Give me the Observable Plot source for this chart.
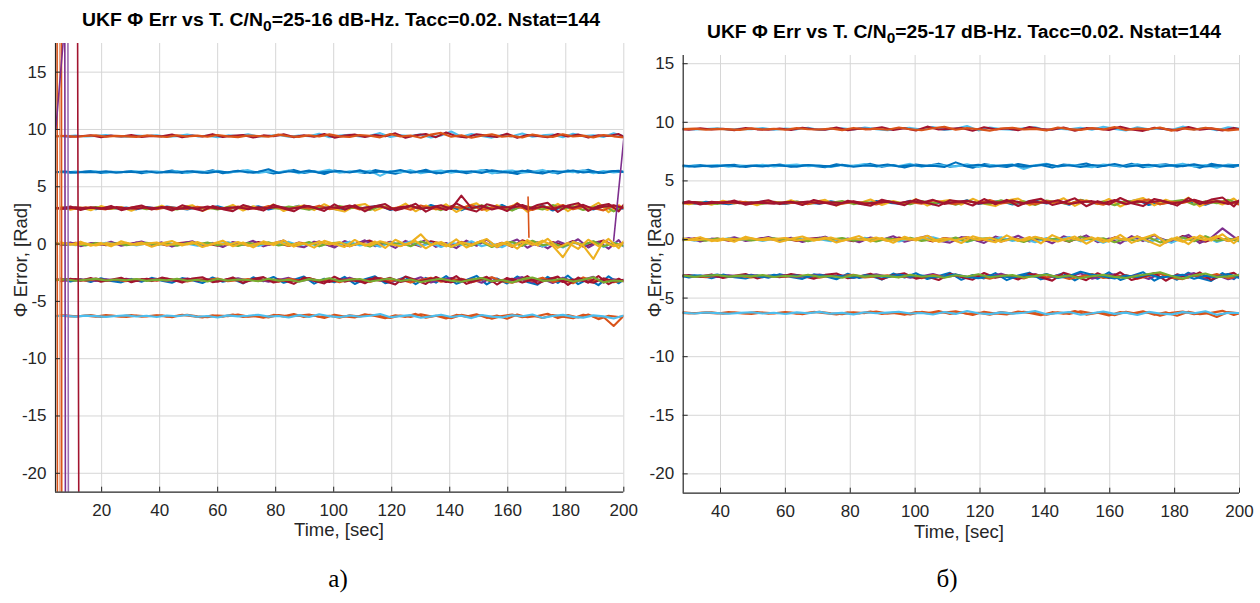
<!DOCTYPE html>
<html><head><meta charset="utf-8">
<script src="https://cdn.jsdelivr.net/npm/d3@7"></script>
<script src="https://cdn.jsdelivr.net/npm/@observablehq/plot@0.6"></script>
<style>
body{margin:0;background:#fff;width:1260px;height:603px;overflow:hidden;position:relative;font-family:"Liberation Sans",Arial,sans-serif;}
.panel{position:absolute;top:0;}
.txt{position:absolute;white-space:nowrap;line-height:1;}
.title{font-weight:bold;font-size:17.5px;color:#000;}
.title sub{font-size:0.8em;vertical-align:-0.35em;line-height:0;}
.lab{font-size:18.5px;color:#262626;}
.cap{font-family:"Liberation Serif","Times New Roman",serif;font-size:25px;color:#000;}
</style></head><body>
<div id="a" class="panel" style="left:0"></div>
<div id="b" class="panel" style="left:630px"></div>
<script>
// ---------- time samples (sec) ----------
const timeA = [4,7.5,11,14.5,18,21.5,25,28.5,32,35.5,39,42.5,46,49.5,53,56.5,60,63.5,67,70.5,74,77.5,81,84.5,88,91.5,95,98.5,102,105.5,109,112.5,116,119.5,123,126.5,130,133.5,137,140.5,144,147.5,151,154.5,158,161.5,165,168.5,172,175.5,179,182.5,186,189.5,193,196.5,200];
const timeA2 = [5.75,9.25,12.75,16.25,19.75,23.25,26.75,30.25,33.75,37.25,40.75,44.25,47.75,51.25,54.75,58.25,61.75,65.25,68.75,72.25,75.75,79.25,82.75,86.25,89.75,93.25,96.75,100.25,103.75,107.25,110.75,114.25,117.75,121.25,124.75,128.25,131.75,135.25,138.75,142.25,145.75,149.25,152.75,156.25,159.75,163.25,166.75,170.25,173.75,177.25,180.75,184.25,187.75,191.25,194.75,198.25,200];
const timeB = [25,28.5,32,35.5,39,42.5,46,49.5,53,56.5,60,63.5,67,70.5,74,77.5,81,84.5,88,91.5,95,98.5,102,105.5,109,112.5,116,119.5,123,126.5,130,133.5,137,140.5,144,147.5,151,154.5,158,161.5,165,168.5,172,175.5,179,182.5,186,189.5,193,196.5,200];
const timeB2 = [26.75,30.25,33.75,37.25,40.75,44.25,47.75,51.25,54.75,58.25,61.75,65.25,68.75,72.25,75.75,79.25,82.75,86.25,89.75,93.25,96.75,100.25,103.75,107.25,110.75,114.25,117.75,121.25,124.75,128.25,131.75,135.25,138.75,142.25,145.75,149.25,152.75,156.25,159.75,163.25,166.75,170.25,173.75,177.25,180.75,184.25,187.75,191.25,194.75,198.25,200];

// ---------- tick labels ----------
const xTicksA = [20,40,60,80,100,120,140,160,180,200];
const xTicksB = [40,60,80,100,120,140,160,180,200];
const yTicks = [-20,-15,-10,-5,0,5,10,15];

// ---------- panel a) C/N0 = 25-16 dB-Hz ----------
const a94_1 = [9.42,9.40,9.47,9.38,9.44,9.52,9.41,9.36,9.46,9.43, 9.49,9.37,9.42,9.55,9.40,9.45,9.33,9.48,9.42,9.58, 9.39,9.44,9.51,9.36,9.47,9.41,9.63,9.32,9.46,9.53, 9.38,9.44,9.68,9.35,9.49,9.42,9.57,9.30,9.47,9.82, 9.36,9.60,9.43,9.29,9.51,9.40,9.64,9.36,9.48,9.55, 9.33,9.62,9.42,9.49,9.35,9.66,9.40];
const a94_2 = [9.38,9.45,9.36,9.43,9.49,9.37,9.44,9.40,9.35,9.48, 9.41,9.34,9.50,9.39,9.46,9.37,9.52,9.40,9.33,9.47, 9.43,9.36,9.55,9.41,9.35,9.49,9.38,9.57,9.40,9.34, 9.52,9.45,9.31,9.60,9.38,9.47,9.28,9.55,9.70,9.36, 9.49,9.27,9.45,9.58,9.37,9.44,9.30,9.56,9.41,9.35, 9.59,9.38,9.46,9.31,9.52,9.40,9.30];
const ax94 = [9.45,9.36,9.41,9.50,9.33,9.46,9.39,9.52,9.35,9.44, 9.40,9.56,9.32,9.47,9.38,9.59,9.34,9.45,9.51,9.30, 9.48,9.41,9.57,9.33,9.50,9.37,9.61,9.29,9.46,9.55, 9.35,9.52,9.40,9.66,9.28,9.49,9.60,9.33,9.74,9.41, 9.30,9.58,9.46,9.34,9.63,9.27,9.52,9.44,9.32,9.61, 9.38,9.55,9.29,9.50,9.43,9.60,9.35];
const a63_1 = [6.30,6.25,6.33,6.27,6.35,6.22,6.31,6.28,6.36,6.24, 6.32,6.26,6.38,6.21,6.34,6.29,6.40,6.23,6.35,6.45, 6.20,6.33,6.27,6.42,6.18,6.36,6.30,6.48,6.22,6.34, 6.26,6.40,5.95,6.37,6.24,6.45,6.19,6.33,6.41,6.23, 6.38,6.27,6.46,6.17,6.35,6.42,6.22,6.31,6.47,6.20, 6.36,6.28,6.44,6.19,6.38,6.25,6.33];
const a63_2 = [6.27,6.33,6.24,6.30,6.26,6.34,6.23,6.31,6.27,6.35, 6.22,6.30,6.25,6.36,6.28,6.21,6.33,6.26,6.39,6.24, 6.31,6.52,6.20,6.35,6.27,6.41,6.23,6.30,6.37,6.25, 6.43,6.21,6.34,6.28,6.46,6.22,6.36,6.29,6.18,6.40, 6.26,6.35,6.20,6.44,6.30,6.23,6.39,6.27,6.15,6.37, 6.29,6.42,6.24,6.33,6.21,6.38,6.30];
const ax63 = [6.33,6.23,6.29,6.37,6.21,6.31,6.26,6.38,6.19,6.33, 6.27,6.41,6.20,6.34,6.25,6.44,6.18,6.30,6.39,6.22, 6.36,6.15,6.31,6.47,6.20,6.35,6.12,6.42,6.27,6.33, 6.21,6.45,6.29,6.14,6.38,6.26,6.49,6.17,6.34,6.40, 6.19,6.36,6.46,6.22,6.30,6.11,6.43,6.25,6.37,6.16, 6.41,6.24,6.48,6.20,6.33,6.39,6.27];
const a31_1 = [3.12,3.20,3.08,3.17,3.05,3.22,3.11,3.18,3.03,3.24, 3.09,3.27,3.14,3.02,3.21,3.10,3.29,3.06,3.19,3.13, 3.30,3.01,3.22,3.12,3.34,3.04,3.26,3.15,2.98,3.31, 3.09,3.24,3.36,2.97,3.19,3.28,3.05,3.40,3.12,3.21, 2.95,3.33,3.18,3.07,3.42,3.00,3.27,3.14,3.38,2.93, 3.25,3.11,3.36,3.02,3.30,3.18,3.08];
const a31_2 = [3.16,3.08,3.19,3.11,3.23,3.06,3.15,3.09,3.21,3.04, 3.18,3.12,3.02,3.25,3.10,3.17,3.01,3.23,3.13,3.28, 3.05,3.19,3.09,3.27,3.14,2.99,3.24,3.08,3.33,3.12, 3.20,2.98,3.29,3.15,3.06,3.35,3.11,3.23,2.96,3.31, 3.17,3.04,3.38,3.10,3.26,2.92,3.34,3.19,3.02,3.40, 3.08,3.29,2.97,3.22,3.37,2.85,3.26];
const a31_3 = [3.10,3.18,3.06,3.21,3.13,3.03,3.19,3.09,3.25,3.12, 3.04,3.22,3.15,3.07,3.26,3.11,3.19,3.00,3.28,3.14, 3.06,3.31,3.17,3.02,3.23,3.10,3.35,3.05,3.20,3.29, 3.01,3.17,3.32,3.08,3.24,2.99,3.37,3.13,3.05,3.27, 3.15,3.39,2.98,3.22,3.09,3.33,3.16,2.97,3.30,3.12, 3.41,3.03,3.24,3.15,2.94,3.35,3.19];
const a31_4 = [3.14,3.09,3.20,3.12,3.17,3.07,3.22,3.13,3.08,3.19, 3.15,3.24,3.06,3.18,3.11,3.27,3.08,3.16,3.22,3.05, 3.20,3.13,3.28,3.07,3.18,3.31,3.04,3.23,3.14,3.36, 3.10,3.26,3.29,3.02,3.21,3.33,3.08,3.19,3.38,3.06, 4.22,3.13,3.35,3.01,3.24,3.17,3.40,3.09,3.28,3.04, 3.33,3.16,3.42,3.07,3.25,3.38,3.12];
const ax31_1 = [3.25,3.00,3.19,2.95,3.31,3.06,3.23,2.91,3.28,3.04, 3.35,2.97,3.21,3.39,2.89,3.26,3.08,3.42,2.93,3.30, 3.02,3.45,2.88,3.24,3.37,2.96,3.48,3.05,2.84,3.33, 3.50,2.92,3.27,3.06,3.53,2.86,3.36,3.01,3.47,2.80, 3.29,3.55,2.90,3.40,3.03,3.58,2.82,3.34,2.98,3.51, 2.87,3.44,3.09,3.60,2.78,3.39,3.12];
const ax31_2 = [3.04,3.27,2.98,3.22,3.09,3.33,2.96,3.18,3.36,3.01, 3.24,2.93,3.38,3.12,2.90,3.31,3.05,2.87,3.40,3.15, 2.92,3.43,3.10,2.86,3.36,3.20,2.89,3.46,3.00,3.39, 2.85,3.30,3.49,2.94,3.16,3.52,2.83,3.28,2.97,3.55, 3.08,2.84,3.47,3.25,2.88,3.54,3.02,3.41,3.60,2.81, 3.37,3.57,2.90,3.32,3.50,2.86,3.45];
const a0_1 = [0.05,-0.08,0.12,-0.03,0.09,-0.11,0.04,-0.06,0.14,-0.02, 0.10,-0.13,0.07,0.16,-0.09,0.03,-0.15,0.11,0.02,-0.10, 0.18,-0.05,0.08,-0.17,0.13,0.01,0.22,-0.12,0.06,-0.19, 0.15,0.30,-0.08,0.20,-0.14,0.09,-0.21,0.25,0.04,-0.16, 0.19,-0.07,0.28,-0.18,0.12,-0.24,0.33,0.02,-0.20,0.17, -0.11,0.26,-0.22,0.08,0.31,-0.15,0.10];
const a0_2 = [-0.04,0.07,-0.10,0.03,-0.07,0.11,-0.02,0.08,-0.12,0.05, -0.06,0.13,-0.09,0.02,-0.14,0.10,-0.05,0.15,-0.11,0.04, -0.16,0.09,-0.03,0.19,-0.10,0.06,-0.20,0.12,-0.07,0.21, -0.13,0.03,-0.23,0.14,-0.05,0.22,-0.17,0.08,-0.26,0.11, -0.09,0.24,-0.19,0.05,-0.28,0.16,-0.12,0.27,-0.22,0.07, -0.30,0.18,-0.08,0.23,-0.25,0.13,-0.18];
const a0_3 = [0.08,-0.05,0.03,-0.12,0.10,-0.04,0.07,-0.09,0.02,0.12, -0.07,0.05,-0.15,0.09,-0.02,0.14,-0.11,0.06,-0.17,0.10, -0.04,0.16,-0.13,0.03,-0.09,0.18,-0.18,0.07,0.14,-0.10, 0.05,-0.22,0.17,-0.06,0.11,-0.19,0.23,-0.03,0.12,-0.24, 0.08,-0.14,0.20,-0.26,0.04,0.18,-0.16,0.29,-0.11,0.06, -0.23,0.14,-0.05,0.25,-0.19,0.09,-0.14];
const a0_4 = [-0.02,0.10,-0.07,0.05,-0.13,0.08,-0.03,0.12,-0.08,0.04, 0.14,-0.10,0.06,-0.04,0.17,-0.12,0.09,-0.06,0.18,-0.14, 0.07,-0.01,0.20,-0.15,0.11,-0.08,0.21,-0.03,0.16,-0.20, 0.10,-0.12,0.24,0.01,-0.18,0.13,0.85,-0.09,0.19,-0.23, 0.15,-0.05,0.27,-0.17,0.09,-0.21,0.22,-0.07,0.30,-0.15, -1.15,0.20,-0.13,-1.30,0.26,-0.19,0.12];
const ax0_1 = [-0.10,0.14,-0.18,0.08,-0.05,0.20,-0.14,0.03,0.22,-0.09, 0.15,-0.22,0.05,0.25,-0.16,0.10,-0.25,0.18,-0.03,0.28, -0.20,0.07,0.30,-0.12,-0.28,0.21,0.02,-0.30,0.26,-0.08, 0.33,-0.18,0.12,-0.33,0.28,-0.06,0.36,-0.24,0.09,-0.35, 0.30,-0.15,0.38,-0.27,0.05,0.40,-0.32,0.16,-0.38,0.24, -0.10,0.42,-0.30,0.20,-0.40,0.35,-0.22];
const ax0_2 = [0.16,-0.06,0.21,-0.15,0.10,-0.20,0.25,-0.04,0.13,-0.23, 0.06,0.27,-0.12,0.18,-0.26,0.03,0.30,-0.19,0.14,-0.29, 0.24,-0.09,0.33,-0.22,0.08,-0.31,0.28,0.00,-0.25,0.36, -0.14,0.22,-0.34,0.38,-0.05,0.26,-0.37,0.15,-0.20,0.41, -0.30,0.12,0.44,-0.26,0.20,-0.40,0.35,-0.11,0.46,-0.33, 0.10,-0.42,0.38,-0.18,0.45,-0.36,0.25];
const am31_1 = [-3.12,-3.05,-3.18,-3.09,-3.21,-3.07,-3.15,-3.02,-3.19,-3.10, -3.04,-3.22,-3.13,-3.00,-3.17,-3.08,-3.25,-3.11,-2.98,-3.20, -3.06,-3.28,-3.14,-2.95,-3.23,-3.09,-3.30,-3.02,-3.18,-2.93, -3.25,-3.12,-2.96,-3.32,-3.07,-3.20,-2.90,-3.35,-3.10,-2.97, -3.27,-3.05,-3.38,-2.92,-3.22,-3.13,-2.88,-3.33,-3.04,-3.40, -2.94,-3.26,-3.11,-2.86,-3.36,-3.08,-3.21];
const am31_2 = [-3.16,-3.09,-3.13,-3.20,-3.06,-3.17,-3.11,-3.23,-3.08,-3.14, -3.19,-3.03,-3.16,-3.26,-3.07,-3.12,-3.01,-3.24,-3.15,-3.05, -3.21,-3.10,-3.29,-3.03,-3.17,-2.97,-3.26,-3.12,-3.33,-3.06, -3.15,-3.31,-2.99,-3.21,-3.09,-3.36,-3.14,-2.94,-3.28,-3.18, -3.02,-3.34,-3.11,-2.90,-3.25,-3.37,-3.07,-3.19,-2.93,-3.30, -3.14,-3.42,-2.91,-3.23,-3.06,-3.33,-3.17];
const am31_3 = [-3.10,-3.17,-3.06,-3.14,-3.01,-3.19,-3.12,-3.07,-3.22,-3.03, -3.15,-3.09,-3.21,-3.04,-3.18,-3.13,-3.27,-3.06,-3.14,-3.23, -3.00,-3.18,-3.08,-3.25,-3.16,-2.99,-3.20,-3.31,-3.09,-3.15, -3.27,-3.04,-3.19,-2.95,-3.30,-3.12,-3.23,-3.01,-3.17,-3.34, -3.08,-3.21,-2.97,-3.28,-3.14,-3.02,-3.36,-3.10,-3.24,-2.96, -3.31,-3.09,-3.19,-3.38,-2.99,-3.25,-3.12];
const am31_4 = [-3.15,-3.08,-3.20,-3.11,-3.04,-3.18,-3.09,-3.16,-3.05,-3.21, -3.10,-3.17,-3.02,-3.20,-3.12,-3.27,-3.05,-3.18,-3.09,-3.14, -3.24,-3.03,-3.19,-3.11,-3.28,-3.06,-3.17,-2.98,-3.23,-3.12, -3.05,-3.26,-3.14,-3.00,-3.22,-3.09,-3.31,-3.15,-3.03,-3.20, -3.29,-3.10,-2.96,-3.24,-3.13,-3.35,-3.06,-2.92,-3.21,-3.16, -3.03,-3.27,-3.12,-2.89,-3.34,-3.18,-3.24];
const axm31_1 = [-3.00,-3.26,-3.07,-3.31,-2.99,-3.22,-3.34,-3.04,-3.28,-2.95, -3.20,-3.37,-2.97,-3.15,-3.40,-2.92,-3.29,-3.08,-3.43,-2.90, -3.25,-2.87,-3.38,-3.11,-2.84,-3.45,-3.02,-3.33,-2.86,-3.48, -3.06,-2.82,-3.41,-3.19,-2.88,-3.50,-2.95,-3.36,-2.80,-3.46, -3.13,-2.78,-3.52,-3.00,-3.44,-2.83,-3.30,-3.55,-2.86,-3.39, -2.76,-3.49,-3.05,-3.58,-2.81,-3.42,-3.10];
const axm31_2 = [-3.24,-3.02,-3.20,-2.97,-3.29,-3.11,-2.94,-3.33,-3.06,-3.23, -2.93,-3.10,-3.36,-3.01,-2.89,-3.32,-3.18,-2.91,-3.41,-3.04, -2.88,-3.35,-3.16,-3.47,-2.92,-3.21,-3.44,-2.85,-3.28,-3.07, -3.42,-2.90,-3.24,-3.52,-2.83,-3.14,-3.48,-2.87,-3.31,-2.79, -3.47,-3.18,-2.85,-3.53,-2.96,-3.26,-2.80,-3.45,-3.09,-2.84, -3.56,-2.92,-3.37,-2.79,-3.50,-3.03,-3.27];
const am63_1 = [-6.27,-6.22,-6.31,-6.25,-6.33,-6.20,-6.29,-6.36,-6.24,-6.30, -6.21,-6.34,-6.26,-6.18,-6.31,-6.38,-6.23,-6.29,-6.15,-6.33, -6.27,-6.40,-6.19,-6.30,-6.24,-6.14,-6.35,-6.26,-6.42,-6.21, -6.32,-6.17,-6.28,-6.44,-6.23,-6.36,-6.13,-6.30,-6.25,-6.47, -6.18,-6.34,-6.22,-6.51,-6.27,-6.15,-6.39,-6.24,-6.45,-6.20, -6.33,-6.48,-6.16,-6.29,-6.37,-7.15,-6.26];
const am63_2 = [-6.30,-6.26,-6.33,-6.24,-6.29,-6.35,-6.27,-6.22,-6.32,-6.26, -6.37,-6.23,-6.30,-6.19,-6.34,-6.27,-6.40,-6.22,-6.31,-6.25, -6.17,-6.33,-6.28,-6.41,-6.20,-6.36,-6.12,-6.29,-6.38,-6.23, -6.34,-6.26,-6.11,-6.39,-6.29,-6.20,-6.43,-6.31,-6.16,-6.36, -6.25,-6.46,-6.19,-6.33,-6.40,-6.21,-6.30,-6.14,-6.44,-6.27, -6.18,-6.35,-6.42,-6.22,-6.31,-6.50,-6.24];
const axm63 = [-6.24,-6.32,-6.27,-6.20,-6.35,-6.25,-6.31,-6.19,-6.34,-6.28, -6.22,-6.38,-6.17,-6.30,-6.41,-6.21,-6.33,-6.14,-6.36,-6.26, -6.43,-6.18,-6.31,-6.10,-6.37,-6.24,-6.45,-6.16,-6.32,-6.40, -6.13,-6.28,-6.47,-6.21,-6.35,-6.09,-6.42,-6.26,-6.50,-6.18, -6.33,-6.12,-6.44,-6.23,-6.52,-6.15,-6.38,-6.27,-6.08,-6.46, -6.20,-6.41,-6.14,-6.55,-6.25,-6.36,-6.30];
// diverged / cycle-slipping trajectories in panel a (time pairs, error pairs)
const slipT = [[4.6,4.8],[5.5,5.7],[6.1,6.3],[7.2,7.6],[8.3,8.6],[11.5,12.3],[4.2,7.2],[196.5,200],[167,167.3]];
const slipV = [[40,-40],[40,-40],[40,-40],[40,-40],[40,-40],[40,-40],[10,19],[0.3,9.2],[4.1,0.6]];

// ---------- panel б) C/N0 = 25-17 dB-Hz ----------
const b94_1 = [9.40,9.45,9.38,9.43,9.49,9.36,9.44,9.41,9.50,9.37, 9.46,9.40,9.53,9.35,9.44,9.48,9.38,9.56,9.42,9.33, 9.47,9.52,9.39,9.60,9.34,9.45,9.68,9.31,9.55,9.42, 9.37,9.49,9.58,9.33,9.46,9.40,9.54,9.36,9.62,9.44, 9.30,9.57,9.41,9.48,9.35,9.63,9.39,9.52,9.32,9.58, 9.45];
const b94_2 = [9.38,9.42,9.46,9.37,9.44,9.40,9.35,9.48,9.39,9.45, 9.36,9.50,9.41,9.38,9.47,9.33,9.52,9.40,9.45,9.37, 9.55,9.41,9.32,9.49,9.62,9.36,9.50,9.40,9.29,9.47, 9.53,9.39,9.44,9.31,9.56,9.42,9.35,9.50,9.38,9.59, 9.34,9.46,9.40,9.55,9.29,9.48,9.37,9.53,9.43,9.31, 9.40];
const bx94 = [9.43,9.36,9.48,9.39,9.45,9.33,9.51,9.40,9.36,9.47, 9.34,9.53,9.41,9.37,9.56,9.32,9.46,9.42,9.58,9.35, 9.49,9.30,9.63,9.38,9.44,9.52,9.28,9.57,9.40,9.47, 9.33,9.60,9.43,9.36,9.55,9.29,9.50,9.45,9.34,9.61, 9.39,9.27,9.54,9.42,9.31,9.59,9.36,9.48,9.30,9.52, 9.41];
const b63_1 = [6.28,6.24,6.32,6.26,6.35,6.21,6.30,6.27,6.38,6.23, 6.33,6.40,6.25,6.31,6.19,6.36,6.28,6.43,6.22,6.34, 6.27,6.45,6.20,6.37,6.30,6.24,6.42,6.18,6.35,6.29, 6.41,6.02,6.33,6.46,6.21,6.38,6.27,6.16,6.40,6.31, 6.24,6.44,6.19,6.36,6.28,6.47,6.22,6.35,6.13,6.39, 6.30];
const b63_2 = [6.25,6.31,6.22,6.29,6.26,6.33,6.20,6.30,6.24,6.35, 6.27,6.22,6.36,6.29,6.24,6.38,6.21,6.32,6.27,6.40, 6.23,6.34,6.28,6.30,6.19,6.58,6.26,6.37,6.22,6.30, 6.35,6.20,6.29,6.42,6.25,6.33,6.18,6.36,6.27,6.44, 6.22,6.31,6.37,6.20,6.34,6.26,6.41,6.23,6.32,6.28, 6.35];
const bx63 = [6.32,6.24,6.36,6.21,6.30,6.38,6.19,6.33,6.26,6.40, 6.22,6.35,6.28,6.17,6.42,6.25,6.31,6.45,6.20,6.36, 6.14,6.39,6.27,6.47,6.21,6.33,6.12,6.43,6.29,6.18, 6.44,6.26,6.35,6.15,6.40,6.30,6.48,6.19,6.37,6.23, 6.46,6.16,6.34,6.41,6.22,6.38,6.13,6.45,6.27,6.20, 6.33];
const b31_1 = [3.10,3.18,3.05,3.21,3.12,3.02,3.19,3.08,3.24,3.11, 3.03,3.22,3.14,3.06,3.26,3.09,3.18,3.01,3.28,3.13, 3.05,3.30,3.16,3.00,3.24,3.10,3.34,3.04,3.20,3.29, 2.98,3.17,3.33,3.07,3.25,2.96,3.37,3.12,3.04,3.28, 3.15,3.38,2.95,3.22,3.08,3.34,3.16,2.97,3.31,3.11, 3.25];
const b31_2 = [3.17,3.09,3.20,3.12,3.03,3.22,3.10,3.16,3.06,3.21, 3.11,3.24,3.04,3.19,3.13,3.28,3.02,3.20,3.09,3.26, 3.14,3.01,3.29,3.10,3.22,2.97,3.31,3.12,3.05,3.35, 3.08,3.26,2.94,3.32,3.17,3.03,3.39,3.11,3.24,2.92, 3.30,3.13,3.40,3.01,3.23,3.36,2.96,3.27,3.09,3.38, 3.06];
const b31_3 = [3.13,3.07,3.16,3.04,3.19,3.10,3.23,3.06,3.15,3.20, 3.08,3.17,3.02,3.25,3.12,3.05,3.21,3.14,2.99,3.27, 3.11,3.19,3.06,3.32,3.15,3.02,3.26,3.10,3.36,3.07, 3.21,3.13,3.01,3.29,3.18,3.05,3.34,3.16,2.97,3.30, 3.06,3.25,3.41,3.00,3.19,3.12,3.37,3.03,3.28,3.17, 2.98];
const b31_4 = [3.15,3.11,3.19,3.08,3.14,3.21,3.09,3.17,3.12,3.06, 3.20,3.13,3.24,3.07,3.18,3.11,3.27,3.05,3.16,3.23, 3.09,3.28,3.14,3.38,3.04,3.21,3.30,3.08,3.19,3.15, 3.33,3.06,3.22,3.12,3.35,3.03,3.18,3.27,3.10,3.36, 3.01,3.24,3.14,3.32,3.07,3.20,3.39,3.11,3.26,3.04, 3.30];
const bx31_1 = [3.24,3.01,3.18,2.96,3.30,3.07,3.22,2.92,3.27,3.05, 3.34,2.98,3.20,3.38,2.90,3.25,3.09,3.41,2.94,3.29, 3.03,3.44,2.89,3.23,3.36,2.97,3.47,3.06,2.85,3.32, 3.49,2.93,3.26,3.07,3.52,2.87,3.35,3.02,3.46,2.81, 3.28,3.54,2.91,3.39,3.04,3.57,2.83,3.33,2.99,3.50, 3.10];
const bx31_2 = [3.05,3.26,2.99,3.21,3.10,3.32,2.97,3.17,3.35,3.02, 3.23,2.94,3.37,3.13,2.91,3.30,3.06,2.88,3.39,3.16, 2.93,3.42,3.11,2.87,3.35,3.21,2.90,3.45,3.01,3.38, 2.86,3.29,3.48,2.95,3.17,3.51,2.84,3.27,2.98,3.54, 3.09,2.85,3.46,3.24,2.89,3.53,3.03,3.40,3.58,2.82, 3.36];
const b0_1 = [0.06,-0.07,0.11,-0.02,0.08,-0.10,0.03,-0.05,0.13,-0.03, 0.09,-0.12,0.06,0.15,-0.08,0.02,-0.14,0.10,0.04,-0.09, 0.17,-0.04,0.07,-0.16,0.12,0.00,0.21,-0.11,0.05,-0.18, 0.14,-0.06,0.19,-0.13,0.08,-0.20,0.24,0.03,-0.15,0.18, -0.08,0.26,-0.17,0.11,-0.23,0.30,0.01,-0.19,0.16,-0.12, 0.22];
const b0_2 = [-0.05,0.08,-0.11,0.04,-0.06,0.10,-0.03,0.07,-0.13,0.06, -0.05,0.12,-0.10,0.03,-0.15,0.09,-0.04,0.14,-0.12,0.05, -0.17,0.08,-0.02,0.18,-0.09,0.07,-0.21,0.11,-0.06,0.20, -0.12,0.04,-0.24,0.13,-0.04,0.21,-0.16,0.09,-0.27,0.10, -0.08,0.23,-0.20,0.06,-0.29,0.15,-0.11,0.26,-0.21,0.08, -0.18];
const b0_3 = [0.07,-0.04,0.02,-0.11,0.09,-0.05,0.06,-0.08,0.03,0.11, -0.06,0.04,-0.14,0.08,-0.01,0.13,-0.10,0.05,-0.16,0.09, -0.03,0.15,-0.12,0.02,-0.08,0.17,-0.17,0.06,0.13,-0.09, 0.04,-0.21,0.16,-0.05,0.10,-0.18,0.22,-0.02,0.11,-0.23, 0.07,-0.13,0.19,-0.25,0.03,0.17,-0.15,0.28,-0.10,0.05, -0.12];
const b0_4 = [-0.03,0.09,-0.06,0.04,-0.12,0.07,-0.02,0.11,-0.07,0.03, 0.13,-0.09,0.05,-0.03,0.16,-0.11,0.08,-0.05,0.17,-0.13, 0.06,-0.02,0.19,-0.14,0.10,-0.07,0.20,-0.04,0.15,-0.19, 0.09,-0.11,0.23,0.00,-0.17,0.12,-0.08,0.18,-0.22,0.14, -0.04,0.26,-0.16,-0.55,0.08,-0.20,0.21,-0.06,0.29,-0.14, 0.19];
const bx0_1 = [-0.09,0.13,-0.17,0.07,-0.04,0.19,-0.13,0.02,0.21,-0.08, 0.14,-0.21,0.04,0.24,-0.15,0.09,-0.24,0.17,-0.02,0.27, -0.19,0.06,0.29,-0.11,-0.27,0.20,0.01,-0.29,0.25,-0.07, 0.32,-0.17,0.11,-0.32,0.27,-0.05,0.35,-0.23,0.08,-0.34, 0.29,-0.14,0.37,-0.26,0.04,0.39,-0.31,0.15,0.95,0.23, -0.10];
const bx0_2 = [0.15,-0.05,0.20,-0.14,0.09,-0.19,0.24,-0.03,0.12,-0.22, 0.05,0.26,-0.11,0.17,-0.25,0.02,0.29,-0.18,0.13,-0.28, 0.23,-0.08,0.32,-0.21,0.07,-0.30,0.27,-0.01,-0.24,0.35, -0.13,0.21,-0.33,0.37,-0.04,0.25,-0.36,0.14,-0.19,0.40, -0.29,0.11,0.43,-0.25,0.19,-0.39,0.34,-0.10,0.45,-0.32, 0.09];
const bm31_1 = [-3.11,-3.04,-3.17,-3.08,-3.20,-3.06,-3.14,-3.01,-3.18,-3.09, -3.03,-3.21,-3.12,-2.99,-3.16,-3.07,-3.24,-3.10,-2.97,-3.19, -3.05,-3.27,-3.13,-2.94,-3.22,-3.08,-3.29,-3.01,-3.17,-2.92, -3.24,-3.11,-2.95,-3.31,-3.06,-3.19,-2.89,-3.34,-3.09,-2.96, -3.26,-3.04,-3.37,-2.91,-3.21,-3.12,-2.87,-3.32,-3.03,-3.39, -3.15];
const bm31_2 = [-3.17,-3.10,-3.14,-3.21,-3.07,-3.18,-3.12,-3.24,-3.09,-3.15, -3.20,-3.04,-3.17,-3.27,-3.08,-3.13,-3.02,-3.25,-3.16,-3.06, -3.22,-3.11,-3.30,-3.04,-3.18,-2.98,-3.27,-3.13,-3.34,-3.07, -3.16,-3.32,-3.00,-3.22,-3.10,-3.37,-3.15,-2.95,-3.29,-3.19, -3.03,-3.35,-3.12,-2.91,-3.26,-3.38,-3.08,-3.20,-2.94,-3.31, -3.13];
const bm31_3 = [-3.09,-3.16,-3.05,-3.13,-3.00,-3.18,-3.11,-3.06,-3.21,-3.02, -3.14,-3.08,-3.20,-3.03,-3.17,-3.12,-3.26,-3.05,-3.13,-3.22, -2.99,-3.17,-3.07,-3.24,-3.15,-2.98,-3.19,-3.30,-3.08,-3.14, -3.26,-3.03,-3.18,-2.94,-3.29,-3.11,-2.75,-3.00,-3.16,-3.33, -3.07,-3.20,-2.96,-3.27,-3.13,-3.01,-3.35,-3.09,-3.23,-2.95, -3.30];
const bm31_4 = [-3.14,-3.07,-3.19,-3.10,-3.03,-3.17,-3.08,-3.15,-3.04,-3.20, -3.09,-3.16,-3.01,-3.19,-3.11,-3.26,-3.04,-3.17,-3.08,-3.13, -3.23,-3.02,-3.18,-3.10,-3.27,-3.05,-3.16,-2.97,-3.22,-3.11, -3.04,-3.25,-3.13,-2.99,-3.21,-3.08,-3.30,-3.14,-3.02,-3.19, -3.28,-3.09,-2.95,-2.80,-3.12,-3.34,-3.05,-2.91,-3.20,-3.15, -3.02];
const bxm31_1 = [-3.01,-3.25,-3.08,-3.30,-3.00,-3.21,-3.33,-3.05,-3.27,-2.96, -3.19,-3.36,-2.98,-3.14,-3.39,-2.93,-3.28,-3.09,-3.42,-2.91, -3.24,-2.88,-3.37,-3.12,-2.85,-3.44,-3.03,-3.32,-2.87,-3.47, -3.07,-2.83,-3.40,-3.18,-2.89,-3.49,-2.96,-3.35,-2.81,-3.45, -3.12,-2.79,-3.51,-3.01,-3.43,-2.84,-3.29,-3.54,-2.87,-3.38, -2.97];
const bxm31_2 = [-3.23,-3.03,-3.19,-2.98,-3.28,-3.10,-2.95,-3.32,-3.07,-3.22, -2.94,-3.11,-3.35,-3.02,-2.90,-3.31,-3.17,-2.92,-3.40,-3.05, -2.89,-3.34,-3.15,-3.46,-2.93,-3.20,-3.43,-2.86,-3.27,-3.08, -3.41,-2.91,-3.23,-3.51,-2.84,-3.13,-3.47,-2.88,-3.30,-2.80, -3.46,-3.17,-2.86,-3.52,-2.97,-3.25,-2.81,-3.44,-3.08,-2.85, -3.20];
const bm63_1 = [-6.26,-6.21,-6.30,-6.24,-6.32,-6.19,-6.28,-6.35,-6.23,-6.29, -6.20,-6.33,-6.25,-6.17,-6.30,-6.37,-6.22,-6.28,-6.14,-6.32, -6.26,-6.39,-6.18,-6.29,-6.23,-6.13,-6.34,-6.25,-6.41,-6.20, -6.31,-6.16,-6.27,-6.43,-6.22,-6.35,-6.12,-6.29,-6.24,-6.46, -6.17,-6.33,-6.21,-6.50,-6.26,-6.14,-6.38,-6.23,-6.62,-6.19, -6.30];
const bm63_2 = [-6.29,-6.25,-6.32,-6.23,-6.28,-6.34,-6.26,-6.21,-6.31,-6.25, -6.36,-6.22,-6.29,-6.18,-6.33,-6.26,-6.39,-6.21,-6.30,-6.24, -6.16,-6.32,-6.27,-6.40,-6.19,-6.35,-6.11,-6.29,-6.37,-6.22, -6.33,-6.25,-6.10,-6.38,-6.28,-6.19,-6.42,-6.30,-6.15,-6.35, -6.24,-6.45,-6.18,-6.32,-6.39,-6.20,-6.29,-6.13,-6.43,-6.26, -6.28];
const bxm63 = [-6.25,-6.31,-6.26,-6.21,-6.34,-6.24,-6.30,-6.20,-6.33,-6.27, -6.23,-6.37,-6.18,-6.29,-6.40,-6.22,-6.32,-6.15,-6.35,-6.25, -6.42,-6.19,-6.30,-6.11,-6.36,-6.23,-6.44,-6.17,-6.31,-6.39, -6.14,-6.27,-6.46,-6.20,-6.34,-6.10,-6.41,-6.25,-6.49,-6.19, -6.32,-6.13,-6.43,-6.22,-6.51,-6.16,-6.37,-6.26,-6.09,-6.45, -6.29];

// ---------- styles (MATLAB default colour order) ----------
const C = {blue:"#0072BD", orange:"#D95319", yellow:"#EDB120", purple:"#7E2F8E", green:"#77AC30", cyan:"#4DBEEE", red:"#A2142F"};
const seriesA = [
  [a94_1,C.cyan,timeA],[ax94,C.red,timeA2],[a94_2,C.orange,timeA],
  [ax63,C.blue,timeA2],[a63_1,C.cyan,timeA],[a63_2,C.blue,timeA],
  [a31_1,C.blue,timeA],[ax31_1,C.yellow,timeA2],[a31_2,C.green,timeA],[a31_3,C.orange,timeA],[ax31_2,C.red,timeA2],[a31_4,C.red,timeA],
  [a0_1,C.red,timeA],[ax0_1,C.purple,timeA2],[a0_2,C.cyan,timeA],[a0_3,C.green,timeA],[ax0_2,C.yellow,timeA2],[a0_4,C.yellow,timeA],
  [axm31_1,C.blue,timeA2],[am31_1,C.purple,timeA],[am31_2,C.orange,timeA],[axm31_2,C.red,timeA2],[am31_3,C.red,timeA],[am31_4,C.green,timeA],
  [axm63,C.orange,timeA2],[am63_1,C.orange,timeA],[am63_2,C.cyan,timeA]
];
const seriesB = [
  [b94_1,C.cyan,timeB],[bx94,C.red,timeB2],[b94_2,C.orange,timeB],
  [bx63,C.blue,timeB2],[b63_1,C.cyan,timeB],[b63_2,C.blue,timeB],
  [b31_1,C.blue,timeB],[bx31_1,C.yellow,timeB2],[b31_2,C.green,timeB],[b31_3,C.orange,timeB],[bx31_2,C.red,timeB2],[b31_4,C.red,timeB],
  [b0_1,C.red,timeB],[bx0_1,C.purple,timeB2],[b0_2,C.cyan,timeB],[b0_3,C.green,timeB],[bx0_2,C.yellow,timeB2],[b0_4,C.yellow,timeB],
  [bxm31_1,C.blue,timeB2],[bm31_1,C.purple,timeB],[bm31_2,C.orange,timeB],[bxm31_2,C.red,timeB2],[bm31_3,C.blue,timeB],[bm31_4,C.green,timeB],
  [bxm63,C.orange,timeB2],[bm63_1,C.orange,timeB],[bm63_2,C.cyan,timeB]
];
const slipColor = [C.orange,"#E9A07E",C.orange,C.purple,"#9C6AB0",C.red,C.purple,C.purple,C.orange];

const AX = "#262626", GRID = "#d6d6d6";

function panel({series, slips, xDomain, yDomain, xTicks, margins}) {
  const W = 630, H = 603;
  const [mT, mR, mB, mL] = margins;
  const pw = W - mL - mR, ph = H - mT - mB;
  const marks = [
    Plot.ruleX(xTicks, {stroke: GRID, strokeWidth: 1}),
    Plot.ruleY(yTicks, {stroke: GRID, strokeWidth: 1})
  ];
  for (const [vals, col, T] of series) {
    marks.push(Plot.line(T.map((t, i) => ({t, v: vals[i]})), {x: "t", y: "v", stroke: col, strokeWidth: 2.1, clip: true}));
  }
  if (slips) {
    slips.forEach((s, k) => {
      marks.push(Plot.line(s.t.map((t, i) => ({t, v: s.v[i]})), {x: "t", y: "v", stroke: slipColor[k], strokeWidth: 1.6, clip: true}));
    });
  }
  marks.push(
    Plot.ruleX([xDomain[0]], {stroke: AX, strokeWidth: 1.2}),
    Plot.ruleY([yDomain[0]], {stroke: AX, strokeWidth: 1.2}),
    Plot.ruleX(xTicks, {stroke: AX, insetTop: ph - 5}),
    Plot.ruleY(yTicks, {stroke: AX, insetRight: pw - 5}),
    Plot.axisX(xTicks, {anchor: "bottom", tickSize: 0, tickPadding: 12, label: null, fill: AX, tickFormat: d => String(d)}),
    Plot.axisY(yTicks, {anchor: "left", tickSize: 0, tickPadding: 9, label: null, fill: AX, tickFormat: d => String(d)})
  );
  return Plot.plot({
    width: W, height: H,
    marginTop: mT, marginRight: mR, marginBottom: mB, marginLeft: mL,
    x: {domain: xDomain}, y: {domain: yDomain},
    style: {fontFamily: "'Liberation Sans', Arial, sans-serif", fontSize: "17px", background: "transparent", overflow: "visible"},
    marks
  });
}

const slipsA = slipT.map((t, k) => ({t, v: slipV[k]}));
document.getElementById("a").appendChild(panel({
  series: seriesA, slips: slipsA,
  xDomain: [4.1, 200], yDomain: [-21.65, 17.5], xTicks: xTicksA,
  margins: [43, 6.7, 111.3, 55]
}));
document.getElementById("b").appendChild(panel({
  series: seriesB, slips: null,
  xDomain: [28.5, 200], yDomain: [-21.65, 15.7], xTicks: xTicksB,
  margins: [55, 21, 110.3, 52.7]
}));

// ---------- texts ----------
function addText(html, cls, x, y, opts = {}) {
  const d = document.createElement("div");
  d.className = "txt " + cls;
  d.innerHTML = html;
  d.style.left = x + "px"; d.style.top = y + "px";
  document.body.appendChild(d);
  let tf = "translate(-50%,-50%)";
  if (opts.rotate) tf += " rotate(-90deg)";
  if (opts.width) {
    const w = d.getBoundingClientRect().width;
    tf += ` scaleX(${opts.width / w})`;
  }
  d.style.transform = tf;
}
addText("UKF Φ Err vs T. C/N<sub>0</sub>=25-16 dB-Hz. Tacc=0.02. Nstat=144", "title", 341, 21, {width: 518});
addText("UKF Φ Err vs T. C/N<sub>0</sub>=25-17 dB-Hz. Tacc=0.02. Nstat=144", "title", 964, 33, {width: 514});
addText("Φ Error, [Rad]", "lab", 21, 260, {rotate: true});
addText("Φ Error, [Rad]", "lab", 655, 260, {rotate: true});
addText("Time, [sec]", "lab", 339, 530);
addText("Time, [sec]", "lab", 959, 532);
addText("a)", "cap", 338, 578);
addText("б)", "cap", 947, 578);
</script>
</body></html>
